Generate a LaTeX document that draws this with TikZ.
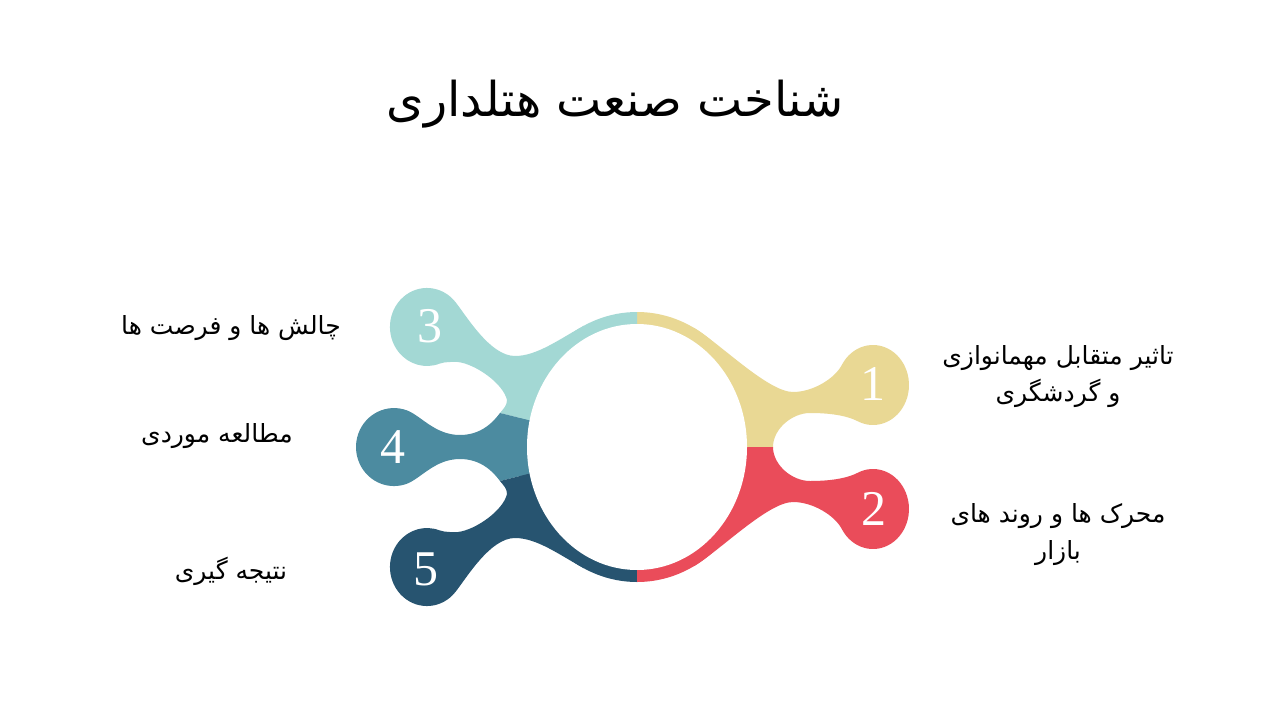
\documentclass[tikz,border=0pt]{standalone}
\usepackage{fontspec}
\setmainfont{Liberation Serif}
\newfontfamily\fa[Script=Arabic]{DejaVu Sans}
\TeXXeTstate=1
\definecolor{yel}{RGB}{233,216,148}
\definecolor{rd}{RGB}{234,76,90}
\definecolor{navy}{RGB}{39,84,112}
\definecolor{teal4}{RGB}{76,139,160}
\definecolor{lteal}{RGB}{163,216,212}
\tikzset{
  digit/.style={text=white,font=\fontsize{50}{50}\selectfont,inner sep=0pt},
  lab/.style={align=center,font=\fa\fontsize{25}{37}\selectfont,inner sep=0pt},
  titl/.style={font=\fa\fontsize{48}{50}\selectfont,inner sep=0pt}
}
\begin{document}
\begin{tikzpicture}[x=1pt,y=1pt]
\useasboundingbox (0,0) rectangle (1280,-720);
\fill[white] (0,0) rectangle (1280,-720);
\coordinate (O) at (637,-447);
% blob 1
\fill[yel] (O) -- (693.8,-327.8) .. controls (719.6,-343.1) and (768,-392) .. (793,-392)
  .. controls (813,-392) and (834.9,-378.4) .. (841.8,-365)
  arc[start angle=150,end angle=-115,x radius=36,y radius=40]
  .. controls (844.4,-414.4) and (825,-413) .. (810,-413)
  .. controls (792,-413) and (773,-429) .. (773,-447) -- cycle;
% blob 2
\fill[rd] (O) -- (693.8,-566.2) .. controls (719.6,-550.9) and (768,-502) .. (793,-502)
  .. controls (813,-502) and (834.9,-515.6) .. (841.8,-529)
  arc[start angle=-150,end angle=115,x radius=36,y radius=40]
  .. controls (844.4,-479.6) and (825,-481) .. (810,-481)
  .. controls (792,-481) and (773,-465) .. (773,-447) -- cycle;
% blob 3
\fill[lteal] (O) -- (584,-325.7) .. controls (559.4,-339.1) and (537,-356) .. (515,-356)
  .. controls (490,-356) and (466.5,-315.9) .. (455.3,-301.9)
  arc[start angle=40,end angle=290,x radius=37,y radius=39]
  .. controls (446,-361.5) and (452,-362) .. (458,-362)
  .. controls (475,-364) and (503,-383) .. (507,-400)
  .. controls (507,-406) and (503,-409) .. (500,-413) -- cycle;
% blob 4
\fill[teal4] (O) -- (500,-413) .. controls (494,-421) and (482,-435) .. (460,-435)
  .. controls (435,-435) and (421,-415.7) .. (407,-410.4)
  arc[start angle=70,end angle=290,x radius=38,y radius=39]
  .. controls (421,-478.3) and (435,-459) .. (460,-459)
  .. controls (482,-459) and (494,-473) .. (500,-481) -- cycle;
% blob 5
\fill[navy] (O) -- (584,-568.3) .. controls (559.4,-554.9) and (537,-538) .. (515,-538)
  .. controls (490,-538) and (466.5,-578.1) .. (455.3,-592.1)
  arc[start angle=-40,end angle=-290,x radius=37,y radius=39]
  .. controls (446,-532.5) and (452,-532) .. (458,-532)
  .. controls (475,-530) and (503,-511) .. (507,-494)
  .. controls (507,-488) and (503,-485) .. (500,-481) -- cycle;
% ring band
\begin{scope}[shift={(637,-447)}]
\fill[yel] (0,0) -- (0:121 and 135) arc[start angle=0,end angle=90,x radius=121,y radius=135] -- cycle;
\fill[lteal] (0,0) -- (90:121 and 135) arc[start angle=90,end angle=167.5,x radius=121,y radius=135] -- cycle;
\fill[teal4] (0,0) -- (167.5:121 and 135) arc[start angle=167.5,end angle=192.5,x radius=121,y radius=135] -- cycle;
\fill[navy] (0,0) -- (192.5:121 and 135) arc[start angle=192.5,end angle=270,x radius=121,y radius=135] -- cycle;
\fill[rd] (0,0) -- (270:121 and 135) arc[start angle=270,end angle=360,x radius=121,y radius=135] -- cycle;
\fill[white] (0,0) ellipse[x radius=110,y radius=123];
\end{scope}
% digits
\node[digit] (n1) at (873,-384) {1};
\node[digit] (n2) at (874,-509) {2};
\node[digit] (n3) at (430,-326) {3};
\node[digit] (n4) at (393,-447) {4};
\node[digit] (n5) at (426,-569) {5};
% title
\node[titl] (t) at (615,-104) {\beginR شناخت صنعت هتلداری\endR};
% labels
\node[lab] (l1) at (1058,-377) {\beginR تاثیر متقابل مهمانوازی\endR\\\beginR و گردشگری\endR};
\node[lab] (l2) at (1058,-535) {\beginR محرک ها و روند های\endR\\\beginR بازار\endR};
\node[lab] (l3) at (231,-328) {\beginR چالش ها و فرصت ها\endR};
\node[lab] (l4) at (217,-436) {\beginR مطالعه موردی\endR};
\node[lab] (l5) at (231,-571) {\beginR نتیجه گیری\endR};
\end{tikzpicture}
\end{document}
